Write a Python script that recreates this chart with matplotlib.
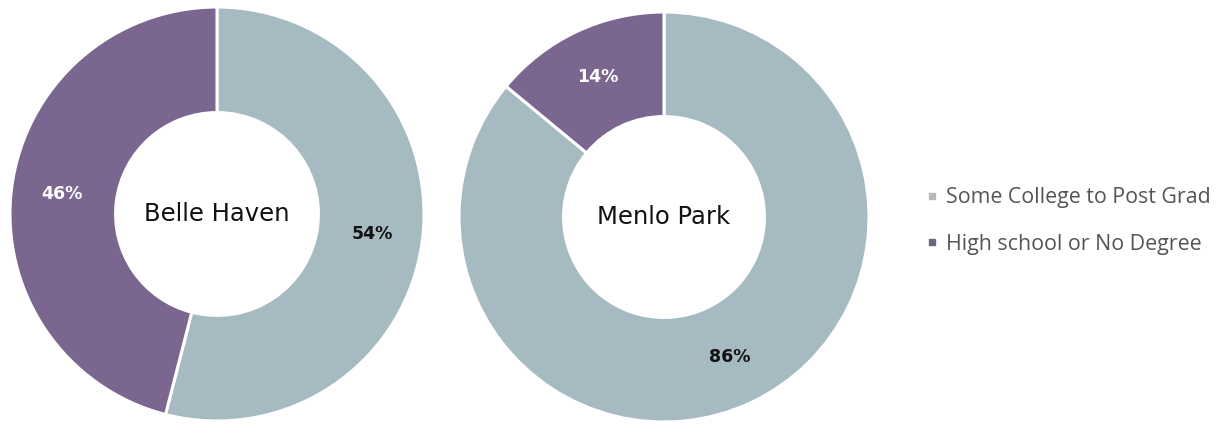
import matplotlib
matplotlib.use("Agg")
import matplotlib.pyplot as plt
from matplotlib.lines import Line2D

# Educational attainment shares (percent)
categories = ["Some College to Post Grad", "High school or No Degree"]
regions = ["Belle Haven", "Menlo Park"]
belle_haven = [54, 46]
menlo_park = [86, 14]
region_values = [belle_haven, menlo_park]

colors = ["#A6BAC1", "#7B6690"]
label_colors = ["#111111", "#FFFFFF"]

W, H = 1220, 428
fig = plt.figure(figsize=(W / 100, H / 100), dpi=100)
fig.patch.set_facecolor("white")

# donut centres and outer radii in pixels
layout = [(217, 214, 207), (664, 217, 205)]

for (cx, cy, r), name, vals in zip(layout, regions, region_values):
    ax = fig.add_axes([(cx - r) / W, (H - cy - r) / H, 2 * r / W, 2 * r / H])
    wedges, _, autotexts = ax.pie(
        vals, colors=colors, startangle=90, counterclock=False,
        radius=1.0, autopct="%d%%", pctdistance=0.755,
        wedgeprops=dict(width=0.51, edgecolor="white", linewidth=2.2),
    )
    for t, c in zip(autotexts, label_colors):
        t.set_color(c)
        t.set_fontsize(12.5)
        t.set_fontweight("bold")
        t.set_fontfamily("DejaVu Sans")
    ax.text(0, 0, name, ha="center", va="center", fontsize=17.5,
            family="DejaVu Sans", color="#111111")
    ax.set_xlim(-1, 1)
    ax.set_ylim(-1, 1)
    ax.set_aspect("equal")
    ax.axis("off")

handles = [Line2D([], [], marker="s", linestyle="none", markersize=5,
                  markerfacecolor=c, markeredgecolor=c)
           for c in ["#B4B8BA", "#6E6680"]]
leg = fig.legend(handles, categories, loc="center left",
                 bbox_to_anchor=(904 / W, 1 - 221 / H), frameon=False,
                 handletextpad=0.25, labelspacing=1.2, handlelength=0.8,
                 prop=dict(family="Open Sans", size=15.4))
for t in leg.get_texts():
    t.set_color("#555555")

fig.savefig("out.png", dpi=100, facecolor="white")
